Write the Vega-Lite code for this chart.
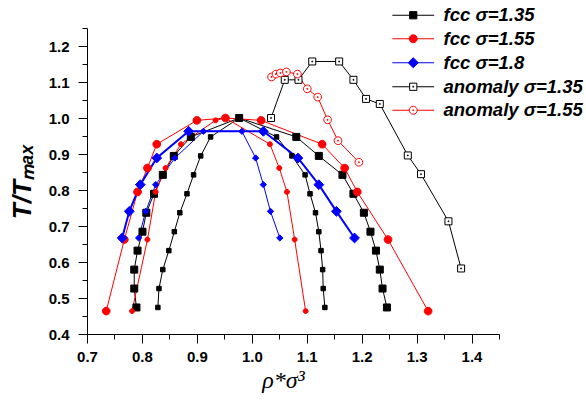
{
  "$schema": "https://vega.github.io/schema/vega-lite/v6.json",
  "width": 412,
  "height": 306,
  "autosize": {"type": "none"},
  "padding": {"left": 87, "top": 28, "right": 87, "bottom": 69},
  "background": "white",
  "config": {
    "view": {"stroke": null},
    "axis": {
      "grid": false,
      "domainColor": "#000",
      "domainWidth": 1,
      "tickColor": "#000",
      "tickWidth": 1,
      "labelColor": "#000",
      "titleColor": "#000",
      "labelFont": "Liberation Sans",
      "labelFontWeight": "bold",
      "labelFontSize": 15,
      "titleFont": "Liberation Sans"
    },
    "legend": {
      "title": null,
      "orient": "none",
      "labelFont": "Liberation Sans",
      "labelFontSize": 18.5,
      "labelFontWeight": "bold",
      "labelFontStyle": "italic",
      "labelColor": "#000",
      "labelOffset": 21,
      "labelLimit": 300,
      "symbolSize": 52,
      "symbolStrokeWidth": 1,
      "symbolOpacity": 1
    }
  },
  "data": {
    "values": [
      {"s": "fcc σ=1.35", "b": "outer", "i": 1, "x": 0.790, "y": 0.4737},
      {"s": "fcc σ=1.35", "b": "outer", "i": 2, "x": 0.786, "y": 0.5263},
      {"s": "fcc σ=1.35", "b": "outer", "i": 3, "x": 0.786, "y": 0.5789},
      {"s": "fcc σ=1.35", "b": "outer", "i": 4, "x": 0.792, "y": 0.6316},
      {"s": "fcc σ=1.35", "b": "outer", "i": 5, "x": 0.801, "y": 0.6842},
      {"s": "fcc σ=1.35", "b": "outer", "i": 6, "x": 0.808, "y": 0.7368},
      {"s": "fcc σ=1.35", "b": "outer", "i": 7, "x": 0.822, "y": 0.7895},
      {"s": "fcc σ=1.35", "b": "outer", "i": 8, "x": 0.838, "y": 0.8421},
      {"s": "fcc σ=1.35", "b": "outer", "i": 9, "x": 0.858, "y": 0.8947},
      {"s": "fcc σ=1.35", "b": "outer", "i": 10, "x": 0.889, "y": 0.9474},
      {"s": "fcc σ=1.35", "b": "outer", "i": 11, "x": 0.977, "y": 1.0},
      {"s": "fcc σ=1.35", "b": "outer", "i": 12, "x": 1.081, "y": 0.9474},
      {"s": "fcc σ=1.35", "b": "outer", "i": 13, "x": 1.122, "y": 0.8947},
      {"s": "fcc σ=1.35", "b": "outer", "i": 14, "x": 1.165, "y": 0.8421},
      {"s": "fcc σ=1.35", "b": "outer", "i": 15, "x": 1.185, "y": 0.7895},
      {"s": "fcc σ=1.35", "b": "outer", "i": 16, "x": 1.204, "y": 0.7368},
      {"s": "fcc σ=1.35", "b": "outer", "i": 17, "x": 1.216, "y": 0.6842},
      {"s": "fcc σ=1.35", "b": "outer", "i": 18, "x": 1.226, "y": 0.6316},
      {"s": "fcc σ=1.35", "b": "outer", "i": 19, "x": 1.233, "y": 0.5789},
      {"s": "fcc σ=1.35", "b": "outer", "i": 20, "x": 1.238, "y": 0.5263},
      {"s": "fcc σ=1.35", "b": "outer", "i": 21, "x": 1.246, "y": 0.4737},
      {"s": "fcc σ=1.35", "b": "inner", "i": 1, "x": 0.829, "y": 0.4737},
      {"s": "fcc σ=1.35", "b": "inner", "i": 2, "x": 0.831, "y": 0.5263},
      {"s": "fcc σ=1.35", "b": "inner", "i": 3, "x": 0.838, "y": 0.5789},
      {"s": "fcc σ=1.35", "b": "inner", "i": 4, "x": 0.849, "y": 0.6316},
      {"s": "fcc σ=1.35", "b": "inner", "i": 5, "x": 0.859, "y": 0.6842},
      {"s": "fcc σ=1.35", "b": "inner", "i": 6, "x": 0.869, "y": 0.7368},
      {"s": "fcc σ=1.35", "b": "inner", "i": 7, "x": 0.882, "y": 0.7895},
      {"s": "fcc σ=1.35", "b": "inner", "i": 8, "x": 0.894, "y": 0.8421},
      {"s": "fcc σ=1.35", "b": "inner", "i": 9, "x": 0.907, "y": 0.8947},
      {"s": "fcc σ=1.35", "b": "inner", "i": 10, "x": 0.925, "y": 0.9474},
      {"s": "fcc σ=1.35", "b": "inner", "i": 11, "x": 0.977, "y": 1.0},
      {"s": "fcc σ=1.35", "b": "inner", "i": 12, "x": 1.045, "y": 0.9474},
      {"s": "fcc σ=1.35", "b": "inner", "i": 13, "x": 1.073, "y": 0.8947},
      {"s": "fcc σ=1.35", "b": "inner", "i": 14, "x": 1.097, "y": 0.8421},
      {"s": "fcc σ=1.35", "b": "inner", "i": 15, "x": 1.106, "y": 0.7895},
      {"s": "fcc σ=1.35", "b": "inner", "i": 16, "x": 1.116, "y": 0.7368},
      {"s": "fcc σ=1.35", "b": "inner", "i": 17, "x": 1.122, "y": 0.6842},
      {"s": "fcc σ=1.35", "b": "inner", "i": 18, "x": 1.126, "y": 0.6316},
      {"s": "fcc σ=1.35", "b": "inner", "i": 19, "x": 1.129, "y": 0.5789},
      {"s": "fcc σ=1.35", "b": "inner", "i": 20, "x": 1.130, "y": 0.5263},
      {"s": "fcc σ=1.35", "b": "inner", "i": 21, "x": 1.133, "y": 0.4737},
      {"s": "fcc σ=1.55", "b": "outer", "i": 1, "x": 0.735, "y": 0.4636},
      {"s": "fcc σ=1.55", "b": "outer", "i": 2, "x": 0.768, "y": 0.6623},
      {"s": "fcc σ=1.55", "b": "outer", "i": 3, "x": 0.792, "y": 0.7947},
      {"s": "fcc σ=1.55", "b": "outer", "i": 4, "x": 0.810, "y": 0.8609},
      {"s": "fcc σ=1.55", "b": "outer", "i": 5, "x": 0.827, "y": 0.9272},
      {"s": "fcc σ=1.55", "b": "outer", "i": 6, "x": 0.900, "y": 0.9934},
      {"s": "fcc σ=1.55", "b": "outer", "i": 7, "x": 0.952, "y": 1.0},
      {"s": "fcc σ=1.55", "b": "outer", "i": 8, "x": 1.017, "y": 0.9934},
      {"s": "fcc σ=1.55", "b": "outer", "i": 9, "x": 1.128, "y": 0.9272},
      {"s": "fcc σ=1.55", "b": "outer", "i": 10, "x": 1.169, "y": 0.8609},
      {"s": "fcc σ=1.55", "b": "outer", "i": 11, "x": 1.192, "y": 0.7947},
      {"s": "fcc σ=1.55", "b": "outer", "i": 12, "x": 1.248, "y": 0.6623},
      {"s": "fcc σ=1.55", "b": "outer", "i": 13, "x": 1.321, "y": 0.4636},
      {"s": "fcc σ=1.55", "b": "inner", "i": 1, "x": 0.782, "y": 0.4636},
      {"s": "fcc σ=1.55", "b": "inner", "i": 2, "x": 0.810, "y": 0.6623},
      {"s": "fcc σ=1.55", "b": "inner", "i": 3, "x": 0.825, "y": 0.7947},
      {"s": "fcc σ=1.55", "b": "inner", "i": 4, "x": 0.843, "y": 0.8609},
      {"s": "fcc σ=1.55", "b": "inner", "i": 5, "x": 0.871, "y": 0.9272},
      {"s": "fcc σ=1.55", "b": "inner", "i": 6, "x": 0.934, "y": 0.9934},
      {"s": "fcc σ=1.55", "b": "inner", "i": 7, "x": 0.952, "y": 1.0},
      {"s": "fcc σ=1.55", "b": "inner", "i": 8, "x": 1.033, "y": 0.9272},
      {"s": "fcc σ=1.55", "b": "inner", "i": 9, "x": 1.050, "y": 0.8609},
      {"s": "fcc σ=1.55", "b": "inner", "i": 10, "x": 1.064, "y": 0.7947},
      {"s": "fcc σ=1.55", "b": "inner", "i": 11, "x": 1.078, "y": 0.6623},
      {"s": "fcc σ=1.55", "b": "inner", "i": 12, "x": 1.098, "y": 0.4636},
      {"s": "fcc σ=1.8", "b": "outer", "i": 1, "x": 0.764, "y": 0.6667},
      {"s": "fcc σ=1.8", "b": "outer", "i": 2, "x": 0.777, "y": 0.7407},
      {"s": "fcc σ=1.8", "b": "outer", "i": 3, "x": 0.797, "y": 0.8148},
      {"s": "fcc σ=1.8", "b": "outer", "i": 4, "x": 0.827, "y": 0.8889},
      {"s": "fcc σ=1.8", "b": "outer", "i": 5, "x": 0.885, "y": 0.9630},
      {"s": "fcc σ=1.8", "b": "outer", "i": 6, "x": 1.021, "y": 0.9630},
      {"s": "fcc σ=1.8", "b": "outer", "i": 7, "x": 1.084, "y": 0.8889},
      {"s": "fcc σ=1.8", "b": "outer", "i": 8, "x": 1.122, "y": 0.8148},
      {"s": "fcc σ=1.8", "b": "outer", "i": 9, "x": 1.154, "y": 0.7407},
      {"s": "fcc σ=1.8", "b": "outer", "i": 10, "x": 1.187, "y": 0.6667},
      {"s": "fcc σ=1.8", "b": "inner", "i": 1, "x": 0.794, "y": 0.6667},
      {"s": "fcc σ=1.8", "b": "inner", "i": 2, "x": 0.807, "y": 0.7407},
      {"s": "fcc σ=1.8", "b": "inner", "i": 3, "x": 0.825, "y": 0.8148},
      {"s": "fcc σ=1.8", "b": "inner", "i": 4, "x": 0.860, "y": 0.8889},
      {"s": "fcc σ=1.8", "b": "inner", "i": 5, "x": 0.912, "y": 0.9630},
      {"s": "fcc σ=1.8", "b": "inner", "i": 6, "x": 0.982, "y": 0.9630},
      {"s": "fcc σ=1.8", "b": "inner", "i": 7, "x": 1.007, "y": 0.8889},
      {"s": "fcc σ=1.8", "b": "inner", "i": 8, "x": 1.021, "y": 0.8148},
      {"s": "fcc σ=1.8", "b": "inner", "i": 9, "x": 1.034, "y": 0.7407},
      {"s": "fcc σ=1.8", "b": "inner", "i": 10, "x": 1.051, "y": 0.6667},
      {"s": "anomaly σ=1.35", "b": "outer", "i": 1, "x": 1.035, "y": 1.0},
      {"s": "anomaly σ=1.35", "b": "outer", "i": 2, "x": 1.060, "y": 1.106},
      {"s": "anomaly σ=1.35", "b": "outer", "i": 3, "x": 1.085, "y": 1.106},
      {"s": "anomaly σ=1.35", "b": "outer", "i": 4, "x": 1.110, "y": 1.157},
      {"s": "anomaly σ=1.35", "b": "outer", "i": 5, "x": 1.159, "y": 1.157},
      {"s": "anomaly σ=1.35", "b": "outer", "i": 6, "x": 1.185, "y": 1.106},
      {"s": "anomaly σ=1.35", "b": "outer", "i": 7, "x": 1.208, "y": 1.053},
      {"s": "anomaly σ=1.35", "b": "outer", "i": 8, "x": 1.233, "y": 1.039},
      {"s": "anomaly σ=1.35", "b": "outer", "i": 9, "x": 1.284, "y": 0.896},
      {"s": "anomaly σ=1.35", "b": "outer", "i": 10, "x": 1.308, "y": 0.844},
      {"s": "anomaly σ=1.35", "b": "outer", "i": 11, "x": 1.358, "y": 0.713},
      {"s": "anomaly σ=1.35", "b": "outer", "i": 12, "x": 1.381, "y": 0.582},
      {"s": "anomaly σ=1.55", "b": "outer", "i": 1, "x": 1.036, "y": 1.114},
      {"s": "anomaly σ=1.55", "b": "outer", "i": 2, "x": 1.044, "y": 1.122},
      {"s": "anomaly σ=1.55", "b": "outer", "i": 3, "x": 1.052, "y": 1.125},
      {"s": "anomaly σ=1.55", "b": "outer", "i": 4, "x": 1.063, "y": 1.128},
      {"s": "anomaly σ=1.55", "b": "outer", "i": 5, "x": 1.083, "y": 1.122},
      {"s": "anomaly σ=1.55", "b": "outer", "i": 6, "x": 1.101, "y": 1.081},
      {"s": "anomaly σ=1.55", "b": "outer", "i": 7, "x": 1.120, "y": 1.058},
      {"s": "anomaly σ=1.55", "b": "outer", "i": 8, "x": 1.138, "y": 0.995},
      {"s": "anomaly σ=1.55", "b": "outer", "i": 9, "x": 1.157, "y": 0.937},
      {"s": "anomaly σ=1.55", "b": "outer", "i": 10, "x": 1.195, "y": 0.877}
    ]
  },
  "encoding": {
    "x": {
      "field": "x",
      "type": "quantitative",
      "scale": {"domain": [0.7, 1.45], "nice": false, "zero": false},
      "axis": {
        "orient": "bottom",
        "values": [0.7, 0.75, 0.8, 0.85, 0.9, 0.95, 1.0, 1.05, 1.1, 1.15, 1.2, 1.25, 1.3, 1.35, 1.4, 1.45],
        "tickSize": {"condition": {"test": "round(datum.value*100)%10===0", "value": 9}, "value": 5},
        "labelExpr": "round(datum.value*100)%10===0 ? format(datum.value,'.1f') : ''",
        "labelOverlap": false,
        "labelFlush": false,
        "labelPadding": 6,
        "title": "ρ*σ³",
        "titleFont": "Liberation Serif",
        "titleFontStyle": "italic",
        "titleFontWeight": "normal",
        "titleFontSize": 24,
        "titlePadding": 4,
        "titleX": 196
      }
    },
    "y": {
      "field": "y",
      "type": "quantitative",
      "scale": {"domain": [0.4, 1.25], "nice": false, "zero": false},
      "axis": {
        "orient": "left",
        "values": [0.4, 0.45, 0.5, 0.55, 0.6, 0.65, 0.7, 0.75, 0.8, 0.85, 0.9, 0.95, 1.0, 1.05, 1.1, 1.15, 1.2, 1.25],
        "tickSize": {"condition": {"test": "round(datum.value*100)%10===0", "value": 9}, "value": 5},
        "labelExpr": "round(datum.value*100)%10===0 ? format(datum.value,'.1f') : ''",
        "labelOverlap": false,
        "labelFlush": false,
        "labelPadding": 9,
        "title": "T/Tₘₐₓ",
        "titleFontStyle": "italic",
        "titleFontWeight": "bold",
        "titleFontSize": 26,
        "titlePadding": 13
      }
    }
  },
  "resolve": {"scale": {"shape": "independent"}, "legend": {"shape": "independent"}},
  "layer": [
    {
      "mark": {"type": "line", "clip": false},
      "encoding": {
        "stroke": {
          "field": "s",
          "type": "nominal",
          "scale": {"domain": ["fcc σ=1.35", "fcc σ=1.55", "fcc σ=1.8", "anomaly σ=1.35", "anomaly σ=1.55"], "range": ["#000000", "#ff0000", "#0000ff", "#000000", "#ff0000"]},
          "legend": null
        },
        "detail": {"field": "b"},
        "order": {"field": "i", "type": "quantitative"},
        "strokeWidth": {"condition": {"test": "datum.s==='fcc σ=1.8' && datum.b==='outer'", "value": 2}, "value": 1}
      }
    },
    {
      "mark": {"type": "point", "filled": true, "opacity": 1, "strokeWidth": 1},
      "encoding": {
        "shape": {
          "field": "s",
          "type": "nominal",
          "scale": {
            "domain": ["fcc σ=1.35", "fcc σ=1.55", "fcc σ=1.8", "anomaly σ=1.35", "anomaly σ=1.55"],
            "range": [
              "M-1,-1H1V1H-1Z",
              "M-1.1,0A1.1,1.1 0 1,0 1.1,0A1.1,1.1 0 1,0 -1.1,0Z",
              "M0,-1.4L1.4,0L0,1.4L-1.4,0Z",
              "M-1,-1H1V1H-1ZM-0.12,-0.12H0.12V0.12H-0.12Z",
              "M-1.1,0A1.1,1.1 0 1,0 1.1,0A1.1,1.1 0 1,0 -1.1,0ZM-0.12,-0.12H0.12V0.12H-0.12Z"
            ]
          },
          "legend": null
        },
        "fill": {
          "field": "s",
          "type": "nominal",
          "scale": {"domain": ["fcc σ=1.35", "fcc σ=1.55", "fcc σ=1.8", "anomaly σ=1.35", "anomaly σ=1.55"], "range": ["#000000", "#ff0000", "#0000ff", "#ffffff", "#ffffff"]},
          "legend": null
        },
        "stroke": {
          "field": "s",
          "type": "nominal",
          "scale": {"domain": ["fcc σ=1.35", "fcc σ=1.55", "fcc σ=1.8", "anomaly σ=1.35", "anomaly σ=1.55"], "range": ["#000000", "#ff0000", "#0000ff", "#000000", "#ff0000"]},
          "legend": null
        },
        "size": {"condition": {"test": "datum.b==='inner'", "value": 20}, "value": 49}
      }
    },
    {
      "transform": [{"filter": "datum.s==='fcc σ=1.35'"}],
      "mark": {"type": "point", "filled": true, "fill": "#000000", "stroke": "#000000", "strokeWidth": 1, "opacity": 0},
      "encoding": {
        "shape": {
          "field": "s",
          "type": "nominal",
          "scale": {"domain": ["fcc σ=1.35"], "range": ["M-5.8,0H5.8M-1,-1H1V1H-1Z"]},
          "legend": {"legendX": 317, "legendY": -22}
        }
      }
    },
    {
      "transform": [{"filter": "datum.s==='fcc σ=1.55'"}],
      "mark": {"type": "point", "filled": true, "fill": "#ff0000", "stroke": "#ff0000", "strokeWidth": 1, "opacity": 0},
      "encoding": {
        "shape": {
          "field": "s",
          "type": "nominal",
          "scale": {"domain": ["fcc σ=1.55"], "range": ["M-5.8,0H5.8M-1.1,0A1.1,1.1 0 1,0 1.1,0A1.1,1.1 0 1,0 -1.1,0Z"]},
          "legend": {"legendX": 317, "legendY": 1.5}
        }
      }
    },
    {
      "transform": [{"filter": "datum.s==='fcc σ=1.8'"}],
      "mark": {"type": "point", "filled": true, "fill": "#0000ff", "stroke": "#0000ff", "strokeWidth": 1, "opacity": 0},
      "encoding": {
        "shape": {
          "field": "s",
          "type": "nominal",
          "scale": {"domain": ["fcc σ=1.8"], "range": ["M-5.8,0H5.8M0,-1.4L1.4,0L0,1.4L-1.4,0Z"]},
          "legend": {"legendX": 317, "legendY": 25.5}
        }
      }
    },
    {
      "transform": [{"filter": "datum.s==='anomaly σ=1.35'"}],
      "mark": {"type": "point", "filled": true, "fill": "#ffffff", "stroke": "#000000", "strokeWidth": 1, "opacity": 0},
      "encoding": {
        "shape": {
          "field": "s",
          "type": "nominal",
          "scale": {"domain": ["anomaly σ=1.35"], "range": ["M-5.8,0H-1M1,0H5.8M-1,-1H1V1H-1ZM-0.12,-0.12H0.12V0.12H-0.12Z"]},
          "legend": {"legendX": 317, "legendY": 49.5}
        }
      }
    },
    {
      "transform": [{"filter": "datum.s==='anomaly σ=1.55'"}],
      "mark": {"type": "point", "filled": true, "fill": "#ffffff", "stroke": "#ff0000", "strokeWidth": 1, "opacity": 0},
      "encoding": {
        "shape": {
          "field": "s",
          "type": "nominal",
          "scale": {"domain": ["anomaly σ=1.55"], "range": ["M-5.8,0H-1.1M1.1,0H5.8M-1.1,0A1.1,1.1 0 1,0 1.1,0A1.1,1.1 0 1,0 -1.1,0ZM-0.12,-0.12H0.12V0.12H-0.12Z"]},
          "legend": {"legendX": 317, "legendY": 73}
        }
      }
    }
  ]
}
